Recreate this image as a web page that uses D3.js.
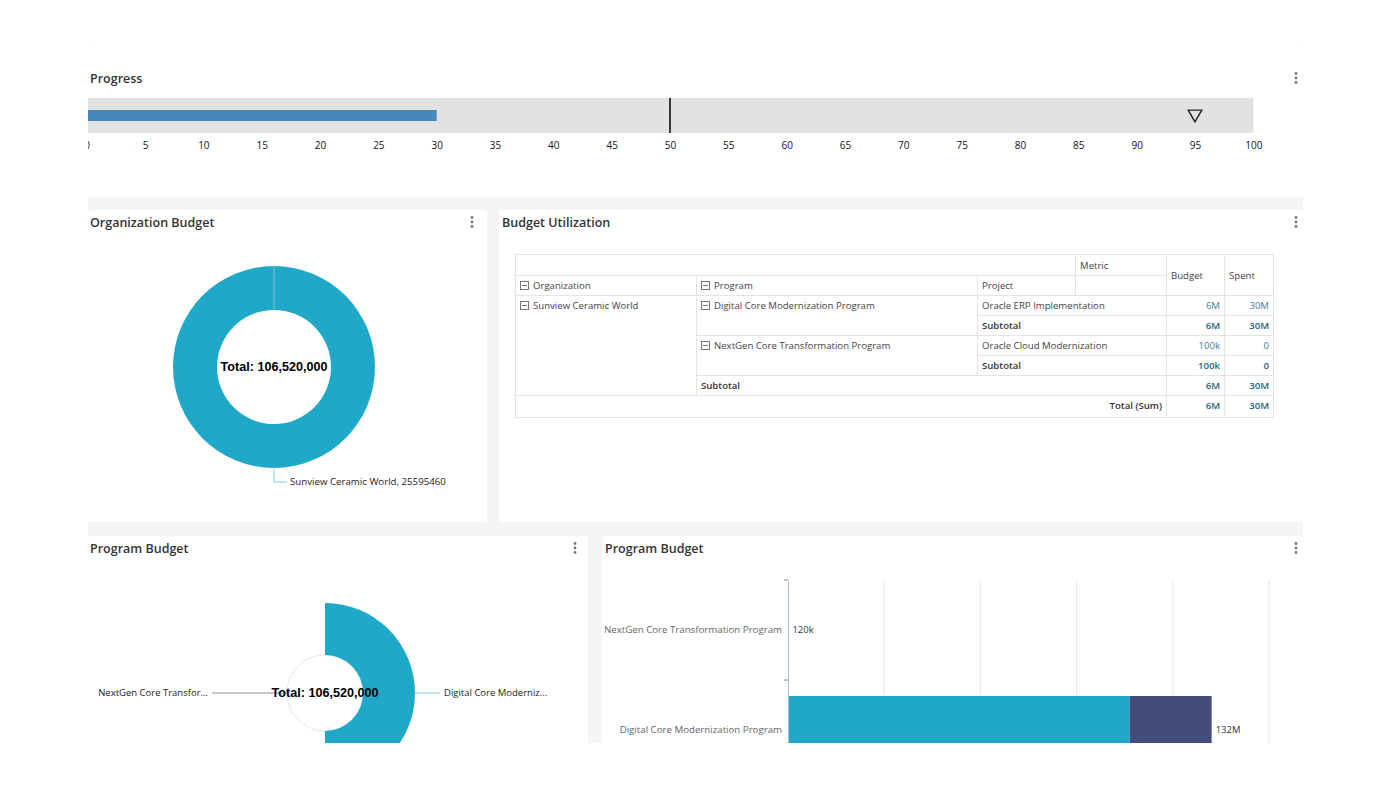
<!DOCTYPE html>
<html>
<head>
  <meta charset="UTF-8">
  <title>Project Dashboard</title>
  <style>
    body { margin: 0; background: #fff; font-family: "Open Sans", sans-serif; }
    #wrap { position: relative; width: 1391px; height: 809px; overflow: hidden; }
    #wrap svg { position: absolute; left: 0; top: 0; }
    #clipbox { position: absolute; left: 88px; top: 40px; width: 1215px; height: 703px; overflow: hidden; }
    #util { position: absolute; left: 427px; top: 214px; }
    table { border-collapse: collapse; table-layout: fixed; width: 758px; font-size: 9.6px; color: #444; }
    td { border: 1px solid #e4e4e4; padding: 3px 4px; height: 20px; box-sizing: border-box;
         line-height: 13px; vertical-align: top; white-space: nowrap; overflow: hidden; }
    td.num { text-align: right; color: #3d7e99; }
    td.b { font-weight: 600; color: #333; }
    td.num.b { color: #1f5f7a; }
    td.mid { vertical-align: middle; }
    .mi { display: inline-block; width: 7px; height: 7px; border: 1px solid #777; position: relative;
          margin-right: 4px; vertical-align: -1px; }
    .mi:after { content: ""; position: absolute; left: 1px; right: 1px; top: 3px; height: 1px; background: #777; }
  </style>
</head>
<body>
<div id="wrap">
  <svg width="1391" height="809"></svg>
  <div id="clipbox"><div id="util"></div></div>
</div>
<script src="https://d3js.org/d3.v7.min.js"></script>
<script>

// ---- data ----
const progressValue = 30;
const progressTarget = 50;
const progressMarker = 95;
const progressTicks = d3.range(0, 101, 5);

const orgNames = ["Sunview Ceramic World"];
const orgValues = [25595460];
const budgetTotal = 106520000;

const pieNames = ["Digital Core Modernization Program", "NextGen Core Transformation Program"];
const pieValues = [53260000, 53260000];

const barPrograms = ["NextGen Core Transformation Program", "Digital Core Modernization Program"];
const barBudget = [100000, 106520000];
const barSpent = [20000, 25595460];
const barGrid = [30000000, 60000000, 90000000, 120000000, 150000000];

const utilOrg = "Sunview Ceramic World";
const utilPrograms = ["Digital Core Modernization Program", "NextGen Core Transformation Program"];
const utilProjects = ["Oracle ERP Implementation", "Oracle Cloud Modernization"];
const utilBudget = [6000000, 100000];
const utilSpent = [30000000, 0];

const teal = "#20a8c9", navy = "#434d79";
const labelFont = "'Open Sans', sans-serif";

let svg = d3.select("svg");
svg.append("defs").append("clipPath").attr("id", "box")
  .append("rect").attr("x", 88).attr("y", 40).attr("width", 1215).attr("height", 703);

let root = svg.append("g").attr("clip-path", "url(#box)");
root.append("rect").attr("x", 88).attr("y", 40).attr("width", 1215).attr("height", 703).attr("fill", "#f5f5f5");

// panels
let panels = [
  {x: 88, y: 40, w: 1215, h: 157, title: "Progress", kx: 1296, tx: 90},
  {x: 88, y: 210, w: 399, h: 312, title: "Organization Budget", kx: 472, tx: 90},
  {x: 499, y: 210, w: 804, h: 312, title: "Budget Utilization", kx: 1296, tx: 502},
  {x: 88, y: 536, w: 500, h: 260, title: "Program Budget", kx: 575, tx: 90},
  {x: 602, y: 536, w: 701, h: 260, title: "Program Budget", kx: 1296, tx: 605}
];
panels.forEach(p => {
  root.append("rect").attr("x", p.x).attr("y", p.y).attr("width", p.w).attr("height", p.h)
    .attr("rx", 3).attr("fill", "#fff");
  let ty = p.y === 40 ? 78 : p.y + 12;
  root.append("text").attr("x", p.tx).attr("y", ty + 1)
    .attr("dy", "0.35em").text(p.title)
    .style("font-family", labelFont).style("font-weight", 600)
    .style("font-size", "12.5px").attr("fill", "#333");
  [-4.5, 0, 4.5].forEach(o => {
    root.append("circle").attr("cx", p.kx).attr("cy", ty + o).attr("r", 1.4).attr("fill", "#777");
  });
});

// ---- progress bullet ----
let px = d3.scaleLinear().domain([0, 100]).range([86.7, 1253.3]);
root.append("rect").attr("x", px(0)).attr("y", 98).attr("width", px(100) - px(0)).attr("height", 35)
  .attr("fill", "#e2e2e2");
root.append("rect").attr("x", px(0)).attr("y", 110).attr("width", px(progressValue) - px(0)).attr("height", 11)
  .attr("fill", "#4589bb");
root.append("line").attr("x1", px(progressTarget)).attr("x2", px(progressTarget))
  .attr("y1", 98).attr("y2", 133).attr("stroke", "#000").attr("stroke-width", 1.5);
root.append("path").attr("d", d3.symbol(d3.symbolTriangle, 80)())
  .attr("transform", "translate(" + px(progressMarker) + ",114) rotate(180)")
  .attr("fill", "none").attr("stroke", "#222").attr("stroke-width", 1.4);
let pa = root.append("g").attr("transform", "translate(0,133)")
  .call(d3.axisBottom(px).tickValues(progressTicks).tickSize(0).tickPadding(9));
pa.select(".domain").remove();
pa.selectAll("text").style("font-size", "10px").style("font-family", labelFont).attr("fill", "#111");

// ---- organization donut ----
let oc = {x: 274, y: 367};
let opie = d3.pie().sort(null)(orgValues);
let oarc = d3.arc().innerRadius(57).outerRadius(101);
let og = root.append("g").attr("transform", "translate(" + oc.x + "," + oc.y + ")");
og.selectAll("path.slice").data(opie).enter().append("path").attr("class", "slice")
  .attr("d", oarc).attr("fill", teal);
opie.forEach((d, i) => {
  let a = d3.pointRadial(d.startAngle, 57), b = d3.pointRadial(d.startAngle, 101);
  og.append("line").attr("x1", a[0]).attr("y1", a[1]).attr("x2", b[0]).attr("y2", b[1])
    .attr("stroke", "#8fb9c6").attr("stroke-width", 1);
  let mid = (d.startAngle + d.endAngle) / 2;
  let p0 = d3.pointRadial(mid, 102);
  let p1 = [p0[0], p0[1] + 13];
  let p2 = [p1[0] + 13, p1[1]];
  og.append("polyline").attr("points", [p0, p1, p2].map(p => p.join(",")).join(" "))
    .attr("fill", "none").attr("stroke", "#7fcbe0").attr("stroke-width", 1);
  og.append("text").attr("x", p2[0] + 3).attr("y", p2[1]).attr("dy", "0.35em")
    .text(orgNames[i] + ", " + orgValues[i])
    .style("font-size", "9.7px").style("font-family", labelFont).attr("fill", "#222");
});
og.append("text").attr("text-anchor", "middle").attr("dy", "0.35em")
  .text("Total: " + d3.format(",")(budgetTotal))
  .style("font-family", "'Liberation Sans', Arial, sans-serif").style("font-weight", 700)
  .style("font-size", "12.6px").attr("fill", "#000");

// ---- program donut ----
let pc = {x: 325, y: 693};
let ppie = d3.pie().sort(null)(pieValues);
let parc = d3.arc().innerRadius(38).outerRadius(90);
let pg = root.append("g").attr("transform", "translate(" + pc.x + "," + pc.y + ")");
pg.selectAll("path.slice").data(ppie).enter().append("path").attr("class", "slice")
  .attr("d", parc).attr("fill", (d, i) => i === 0 ? teal : "#fff");
// faint inner edge of the second slice
pg.append("path")
  .attr("d", d3.arc().innerRadius(38).outerRadius(38)({startAngle: ppie[1].startAngle, endAngle: ppie[1].endAngle}))
  .attr("fill", "none").attr("stroke", "#ccc").attr("stroke-width", 0.6).attr("stroke-dasharray", "1.5,1.5");
ppie.forEach((d, i) => {
  let mid = (d.startAngle + d.endAngle) / 2;
  let side = Math.sin(mid) >= 0 ? 1 : -1;
  let r0 = i === 0 ? 90 : 36;
  let p0 = d3.pointRadial(mid, r0);
  let len = i === 0 ? 25 : 77;
  let p1 = [p0[0] + side * len, p0[1]];
  pg.append("line").attr("x1", p0[0]).attr("y1", p0[1]).attr("x2", p1[0]).attr("y2", p1[1])
    .attr("stroke", i === 0 ? "#7fcbe0" : "#8a90ab").attr("stroke-width", 1);
  let name = pieNames[i].length > 21 ? pieNames[i].slice(0, 21) + "..." : pieNames[i];
  pg.append("text").attr("x", p1[0] + side * 4).attr("y", p1[1]).attr("dy", "0.35em")
    .attr("text-anchor", side > 0 ? "start" : "end").text(name)
    .style("font-size", "9.5px").style("font-family", labelFont).attr("fill", "#222");
});
pg.append("text").attr("text-anchor", "middle").attr("dy", "0.35em")
  .text("Total: " + d3.format(",")(d3.sum(pieValues)))
  .style("font-family", "'Liberation Sans', Arial, sans-serif").style("font-weight", 700)
  .style("font-size", "12.6px").attr("fill", "#000");

// ---- program budget bars ----
let bx = d3.scaleLinear().domain([0, 150000000]).range([788, 1269]);
let by = d3.scaleBand().domain(barPrograms).range([580, 780]);
let bg = root.append("g");
bg.selectAll("line.grid").data(barGrid).enter().append("line").attr("class", "grid")
  .attr("x1", d => bx(d)).attr("x2", d => bx(d)).attr("y1", 580).attr("y2", 780)
  .attr("stroke", "#e6e6ee").attr("stroke-width", 1);
let stack = d3.stack().keys(["budget", "spent"])(barPrograms.map((p, i) => ({program: p, budget: barBudget[i], spent: barSpent[i]})));
bg.selectAll("g.layer").data(stack).enter().append("g").attr("class", "layer")
  .attr("fill", (d, i) => i === 0 ? teal : navy)
  .selectAll("rect").data(d => d).enter().append("rect")
  .attr("x", d => bx(d[0])).attr("width", d => bx(d[1]) - bx(d[0]))
  .attr("y", d => by(d.data.program) + by.bandwidth() * 0.16).attr("height", by.bandwidth() * 0.68);
let ya = bg.append("g").attr("transform", "translate(788,0)")
  .call(d3.axisLeft(by).tickSize(0).tickPadding(6));
ya.select(".domain").attr("stroke", "#a8bccb");
ya.selectAll("text").style("font-size", "9.7px").style("font-family", labelFont).attr("fill", "#666");
bg.selectAll("line.btick").data([580, 680]).enter().append("line").attr("class", "btick")
  .attr("x1", 784).attr("x2", 788).attr("y1", d => d).attr("y2", d => d).attr("stroke", "#888");
bg.selectAll("text.tot").data(barPrograms).enter().append("text").attr("class", "tot")
  .attr("x", (d, i) => bx(barBudget[i] + barSpent[i]) + 4)
  .attr("y", d => by(d) + by.bandwidth() / 2).attr("dy", "0.35em")
  .text((d, i) => d3.format(".3~s")(barBudget[i] + barSpent[i]))
  .style("font-size", "9.5px").style("font-family", labelFont).attr("fill", "#333");

// ---- budget utilization table ----
let f = d3.format(".1~s");
let sumB = d3.sum(utilBudget), sumS = d3.sum(utilSpent);
let rows = [
  [{t: "", cs: 3}, {t: "Metric", cls: "mid"}, {t: "Budget", rs: 2, cls: "mid"}, {t: "Spent", rs: 2, cls: "mid"}],
  [{t: "Organization", icon: 1}, {t: "Program", icon: 1}, {t: "Project"}, {t: ""}],
  [{t: utilOrg, icon: 1, rs: 5}, {t: utilPrograms[0], icon: 1, rs: 2}, {t: utilProjects[0], cs: 2},
    {t: f(utilBudget[0]), cls: "num"}, {t: f(utilSpent[0]), cls: "num"}],
  [{t: "Subtotal", cs: 2, cls: "b"}, {t: f(utilBudget[0]), cls: "num b"}, {t: f(utilSpent[0]), cls: "num b"}],
  [{t: utilPrograms[1], icon: 1, rs: 2}, {t: utilProjects[1], cs: 2},
    {t: f(utilBudget[1]), cls: "num"}, {t: f(utilSpent[1]), cls: "num"}],
  [{t: "Subtotal", cs: 2, cls: "b"}, {t: f(utilBudget[1]), cls: "num b"}, {t: f(utilSpent[1]), cls: "num b"}],
  [{t: "Subtotal", cs: 3, cls: "b"}, {t: f(sumB), cls: "num b"}, {t: f(sumS), cls: "num b"}],
  [{t: "Total (Sum)", cs: 4, cls: "b", right: 1}, {t: f(sumB), cls: "num b"}, {t: f(sumS), cls: "num b"}]
];
let table = d3.select("#util").append("table");
table.append("colgroup").selectAll("col").data([181, 281, 98, 91, 58, 49]).enter().append("col")
  .style("width", d => d + "px");
let tb = table.append("tbody");
let tr = tb.selectAll("tr").data(rows).enter().append("tr")
  .style("height", (d, i) => (i === 0 ? 21 : i === 7 ? 22 : 20) + "px");
let td = tr.selectAll("td").data(d => d).enter().append("td")
  .attr("colspan", d => d.cs || null).attr("rowspan", d => d.rs || null)
  .attr("class", d => d.cls || null)
  .style("text-align", d => d.right ? "right" : null);
td.filter(d => d.icon).append("span").attr("class", "mi");
td.append("span").text(d => d.t);
</script>
</body>
</html>
